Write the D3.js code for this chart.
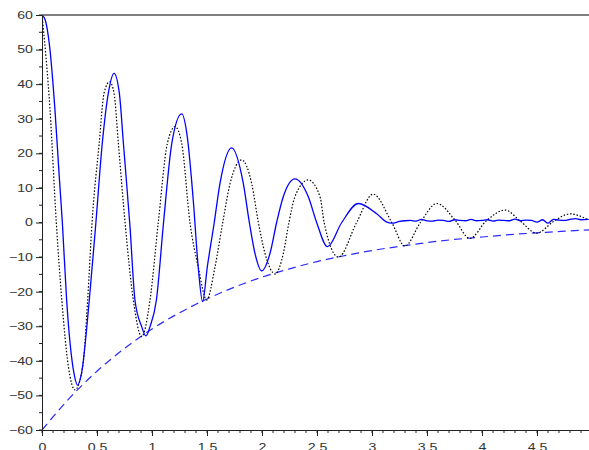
<!DOCTYPE html>
<html>
<head>
<meta charset="utf-8">
<script src="https://cdn.jsdelivr.net/npm/d3@7"></script>
<style>
  body { margin: 0; background: #fff; }
  svg { display: block; }
</style>
</head>
<body>
<svg id="chart" width="589" height="450"></svg>
<script>
// values
var solidTime = [0, 0.03, 0.066, 0.118, 0.157, 0.185, 0.224, 0.29, 0.324, 0.36, 0.43, 0.49, 0.548, 0.603, 0.655, 0.703, 0.74, 0.8, 0.845, 0.906, 0.945, 0.982, 1.04, 1.105, 1.18, 1.27, 1.32, 1.375, 1.42, 1.46, 1.503, 1.566, 1.618, 1.724, 1.83, 1.885, 1.936, 1.997, 2.073, 2.133, 2.194, 2.3, 2.42, 2.497, 2.595, 2.725, 2.876, 3.04, 3.13, 3.18,
  3.25, 3.3, 3.35, 3.4, 3.45, 3.5, 3.55, 3.6, 3.65, 3.7, 3.75, 3.8, 3.85, 3.9, 3.95, 4.0, 4.05, 4.1, 4.15, 4.2, 4.25, 4.3, 4.35, 4.4, 4.45, 4.5, 4.55, 4.6, 4.65, 4.7, 4.75, 4.8, 4.85, 4.9, 4.97];
var solidValue = [60, 58.5, 51.8, 32.5, 13.2, 0, -22.4, -43.5, -47, -43.5, -22.4, 0, 22.9, 37.4, 43.1, 37.4, 22.9, -1.2, -22.4, -30.1, -32.8, -30.1, -22.4, 0, 22.9, 31.4, 25, 6.5, -12.8, -22.9, -12.8, 0, 11.3, 21.6, 11.3, 0, -8.9, -14, -8.9, 0, 7.5, 12.6, 7.5, 0, -7, 0, 5.5, 2.6, 0.2, -0.2,
  0.3, 0.5, 0.6, 0.4, 0.9, 0.5, 0.4, 0.7, 0.6, 0.3, 0.8, 0.6, 0.5, 0.9, 0.5, 0.6, 0.8, 0.4, 0.7, 0.6, 0.5, 1.0, 0.5, 0.7, 0.6, 0.1, 0.8, -0.2, 0.9, 0.7, 0.6, 0.9, 1.1, 0.8, 0.9];

var dottedTime = [0, 0.073, 0.13, 0.18, 0.24, 0.3, 0.37, 0.415, 0.455, 0.52, 0.564, 0.615, 0.655, 0.694, 0.755, 0.83, 0.906, 0.982, 1.057, 1.14, 1.21, 1.27, 1.345, 1.42, 1.497, 1.573, 1.643, 1.71, 1.815, 1.906, 1.967, 2.027, 2.12, 2.194, 2.245, 2.3, 2.42, 2.527, 2.565, 2.695, 2.86, 3.01, 3.18, 3.3, 3.44, 3.59, 3.755, 3.89, 4.04, 4.21, 4.345, 4.497, 4.65, 4.8, 4.97];
var dottedValue = [60, 32.5, 0, -22.4, -41.7, -48.4, -41.7, -22.4, 0, 22.9, 37.4, 40.7, 37.4, 22.9, 0, -22.4, -33, -22.4, 0, 22.9, 27.7, 22.9, 0, -12.8, -22.4, -12.8, 0, 11.3, 18.1, 11.3, 0, -8.9, -14.9, -8.9, 0, 7.5, 12.3, 7.5, 0, -10, 0, 8.2, 0, -6.8, 0, 5.5, 0.7, -4.6, 0.5, 3.6, 0.5, -3.1, 0.3, 2.5, 0.7];

var envTime = [0, 0.25, 0.5, 0.75, 1, 1.25, 1.5, 1.75, 2, 2.25, 2.5, 2.75, 3, 3.25, 3.5, 3.75, 4, 4.25, 4.5, 4.75, 5];
var envValue = [-60, -50.8, -43, -36.4, -30.8, -26.1, -22.1, -18.7, -15.8, -13.4, -11.3, -9.6, -8.1, -6.9, -5.8, -4.9, -4.2, -3.5, -3, -2.5, -2.1];

var xTicks = [0, 0.5, 1, 1.5, 2, 2.5, 3, 3.5, 4, 4.5];
var xTickLabels = ["0", "0.5", "1", "1.5", "2", "2.5", "3", "3.5", "4", "4.5"];
var yTicks = [-60, -50, -40, -30, -20, -10, 0, 10, 20, 30, 40, 50, 60];

var plotLeft = 42, plotRight = 589, plotTop = 15, plotBottom = 430;

var svg = d3.select("#chart");

var x = d3.scaleLinear().domain([0, 5]).range([plotLeft, plotLeft + 550]);
var y = d3.scaleLinear().domain([-60, 60]).range([plotBottom, plotTop]);

svg.append("clipPath").attr("id", "plot-clip")
    .append("rect")
    .attr("x", plotLeft).attr("y", plotTop - 2)
    .attr("width", plotRight - plotLeft).attr("height", plotBottom - plotTop + 4);

var plot = svg.append("g").attr("clip-path", "url(#plot-clip)");

function zip(ts, vs) {
    return ts.map(function (t, i) { return [t, vs[i]]; });
}

var line = d3.line()
    .x(function (d) { return x(d[0]); })
    .y(function (d) { return y(d[1]); })
    .curve(d3.curveMonotoneX);

// envelope
plot.append("path")
    .datum(zip(envTime, envValue))
    .attr("d", line)
    .attr("fill", "none")
    .attr("stroke", "#2a2aff")
    .attr("stroke-width", 1.2)
    .attr("stroke-dasharray", "8,5");

// dotted reference
plot.append("path")
    .datum(zip(dottedTime, dottedValue))
    .attr("d", line)
    .attr("fill", "none")
    .attr("stroke", "#000")
    .attr("stroke-width", 1.2)
    .attr("stroke-dasharray", "1.5,1.8");

// measured response
plot.append("path")
    .datum(zip(solidTime, solidValue))
    .attr("d", line)
    .attr("fill", "none")
    .attr("stroke", "#0000ff")
    .attr("stroke-width", 1.3);

// top border
svg.append("line")
    .attr("x1", plotLeft).attr("x2", plotRight)
    .attr("y1", plotTop).attr("y2", plotTop)
    .attr("stroke", "#555")
    .attr("stroke-width", 1.6);

// minor ticks
var xMinor = d3.range(0, 50).map(function (i) { return i / 10; });
svg.append("g").selectAll("line")
    .data(xMinor)
    .enter()
    .append("line")
    .attr("x1", function (d) { return x(d); })
    .attr("x2", function (d) { return x(d); })
    .attr("y1", plotBottom).attr("y2", plotBottom + 3)
    .attr("stroke", "#222");

var yMinor = d3.range(-60, 61, 5);
svg.append("g").selectAll("line")
    .data(yMinor)
    .enter()
    .append("line")
    .attr("x1", plotLeft - 3).attr("x2", plotLeft)
    .attr("y1", function (d) { return y(d); })
    .attr("y2", function (d) { return y(d); })
    .attr("stroke", "#222");

var xAxis = d3.axisBottom(x)
    .tickValues(xTicks)
    .tickFormat(function (d, i) { return xTickLabels[i]; })
    .tickSize(6)
    .tickSizeOuter(0);

var yAxis = d3.axisLeft(y)
    .tickValues(yTicks)
    .tickSize(6)
    .tickSizeOuter(0);

var gx = svg.append("g")
    .attr("transform", "translate(0," + plotBottom + ")")
    .call(xAxis);
gx.select(".domain").attr("d", "M" + plotLeft + ",0.5H" + plotRight).attr("stroke", "#222");
gx.selectAll(".tick line").attr("stroke", "#222");
gx.selectAll(".tick text")
    .attr("y", 0)
    .attr("dy", null)
    .attr("transform", "translate(0,21) scale(1.35,1)")
    .style("font-family", "'Liberation Sans', Arial, sans-serif")
    .style("font-size", "10.5px")
    .attr("fill", "#333");

var gy = svg.append("g")
    .attr("transform", "translate(" + plotLeft + ",0)")
    .call(yAxis);
gy.select(".domain").attr("stroke", "#222");
gy.selectAll(".tick line").attr("stroke", "#222");
gy.selectAll(".tick text")
    .attr("x", 0)
    .attr("transform", "translate(-9,0) scale(1.35,1)")
    .style("font-family", "'Liberation Sans', Arial, sans-serif")
    .style("font-size", "10.5px")
    .attr("fill", "#333");
</script>
</body>
</html>
